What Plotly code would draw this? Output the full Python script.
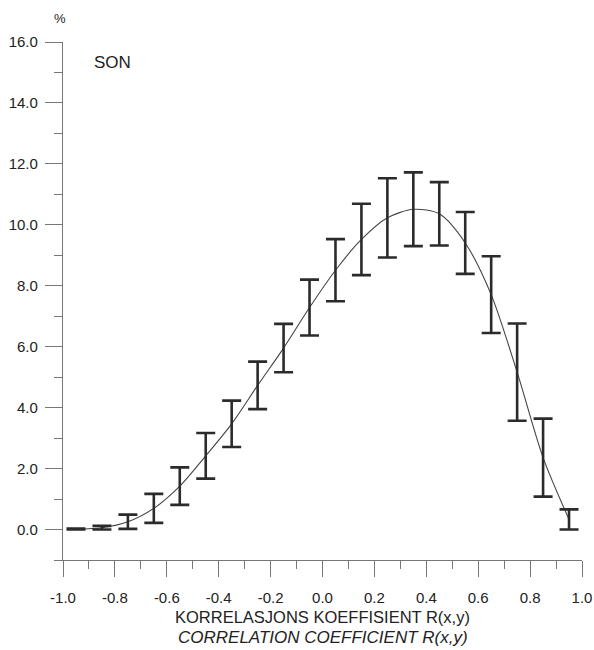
import plotly.graph_objects as go

# Data
r_centers = [-0.95, -0.85, -0.75, -0.65, -0.55, -0.45, -0.35, -0.25, -0.15, -0.05,
             0.05, 0.15, 0.25, 0.35, 0.45, 0.55, 0.65, 0.75, 0.85, 0.95]
upper = [0.03, 0.12, 0.49, 1.17, 2.04, 3.17, 4.23, 5.51, 6.75, 8.20,
         9.53, 10.69, 11.53, 11.72, 11.40, 10.42, 8.97, 6.76, 3.64, 0.66]
lower = [0.0, 0.0, 0.02, 0.22, 0.81, 1.67, 2.71, 3.95, 5.16, 6.37,
         7.49, 8.35, 8.93, 9.30, 9.32, 8.39, 6.45, 3.57, 1.08, 0.0]

x_tickvals = [-1.0, -0.8, -0.6, -0.4, -0.2, 0.0, 0.2, 0.4, 0.6, 0.8, 1.0]
x_ticktext = ["-1.0", "-0.8", "-0.6", "-0.4", "-0.2", "0.0", "0.2", "0.4", "0.6", "0.8", "1.0"]
y_tickvals = [0, 2, 4, 6, 8, 10, 12, 14, 16]
y_ticktext = ["0.0", "2.0", "4.0", "6.0", "8.0", "10.0", "12.0", "14.0", "16.0"]

mid = [(u + l) / 2 for u, l in zip(upper, lower)]
half = [(u - l) / 2 for u, l in zip(upper, lower)]

FONT = "Liberation Sans, Arial, sans-serif"
AX = "#777777"
TXT = "#222222"

fig = go.Figure()
fig.add_trace(go.Scatter(
    x=r_centers, y=mid, mode="lines",
    line=dict(color="#444444", width=1.1, shape="spline", smoothing=0.8),
    hoverinfo="skip", showlegend=False,
))
fig.add_trace(go.Scatter(
    x=r_centers, y=mid, mode="markers",
    marker=dict(size=1, color="rgba(0,0,0,0)"),
    error_y=dict(type="data", array=half, symmetric=True,
                 color="#2b2b2b", thickness=2.6, width=9.5),
    showlegend=False,
))

fig.update_layout(
    width=594, height=650, autosize=False,
    margin=dict(l=63, r=12, t=42, b=90),
    paper_bgcolor="white", plot_bgcolor="white",
    font=dict(family=FONT, size=15, color=TXT),
    xaxis=dict(
        range=[-1.0, 1.0], showgrid=False, zeroline=False, automargin=False,
        showline=True, linecolor=AX, linewidth=1.2,
        tickmode="array", tickvals=x_tickvals, ticktext=x_ticktext,
        ticks="outside", ticklen=16, tickcolor=AX, tickwidth=1.2,
        ticklabelstandoff=8,
        minor=dict(dtick=0.1, tick0=0, ticks="outside", ticklen=8,
                   tickcolor=AX, tickwidth=1.2),
        tickfont=dict(size=15, family=FONT, color=TXT),
    ),
    yaxis=dict(
        range=[-1.0, 16.0], showgrid=False, zeroline=False, automargin=False,
        showline=True, linecolor=AX, linewidth=1.2,
        tickmode="array", tickvals=y_tickvals, ticktext=y_ticktext,
        ticks="outside", ticklen=17, tickcolor=AX, tickwidth=1.2,
        ticklabelstandoff=4,
        minor=dict(dtick=1, tick0=0, ticks="outside", ticklen=8,
                   tickcolor=AX, tickwidth=1.2),
        tickfont=dict(size=15, family=FONT, color=TXT),
    ),
    annotations=[
        dict(text="%", xref="paper", yref="paper", x=-0.006, y=1.0, yshift=24,
             showarrow=False, font=dict(size=13, family=FONT, color=TXT),
             xanchor="center", yanchor="middle"),
        dict(text="SON", xref="x", yref="y", x=-0.81, y=15.34,
             showarrow=False, font=dict(size=17, family=FONT, color=TXT),
             xanchor="center", yanchor="middle"),
        dict(text="KORRELASJONS KOEFFISIENT R(x,y)", xref="paper", yref="paper",
             x=0.5, y=0, yshift=-57, showarrow=False,
             font=dict(size=16.5, family=FONT, color=TXT),
             xanchor="center", yanchor="middle"),
        dict(text="<i>CORRELATION COEFFICIENT R(x,y)</i>", xref="paper", yref="paper",
             x=0.5, y=0, yshift=-77, showarrow=False,
             font=dict(size=17, family=FONT, color=TXT),
             xanchor="center", yanchor="middle"),
    ],
)

fig.write_html("out.html", config={"displayModeBar": False},
               post_script="document.body.style.margin='0';")
